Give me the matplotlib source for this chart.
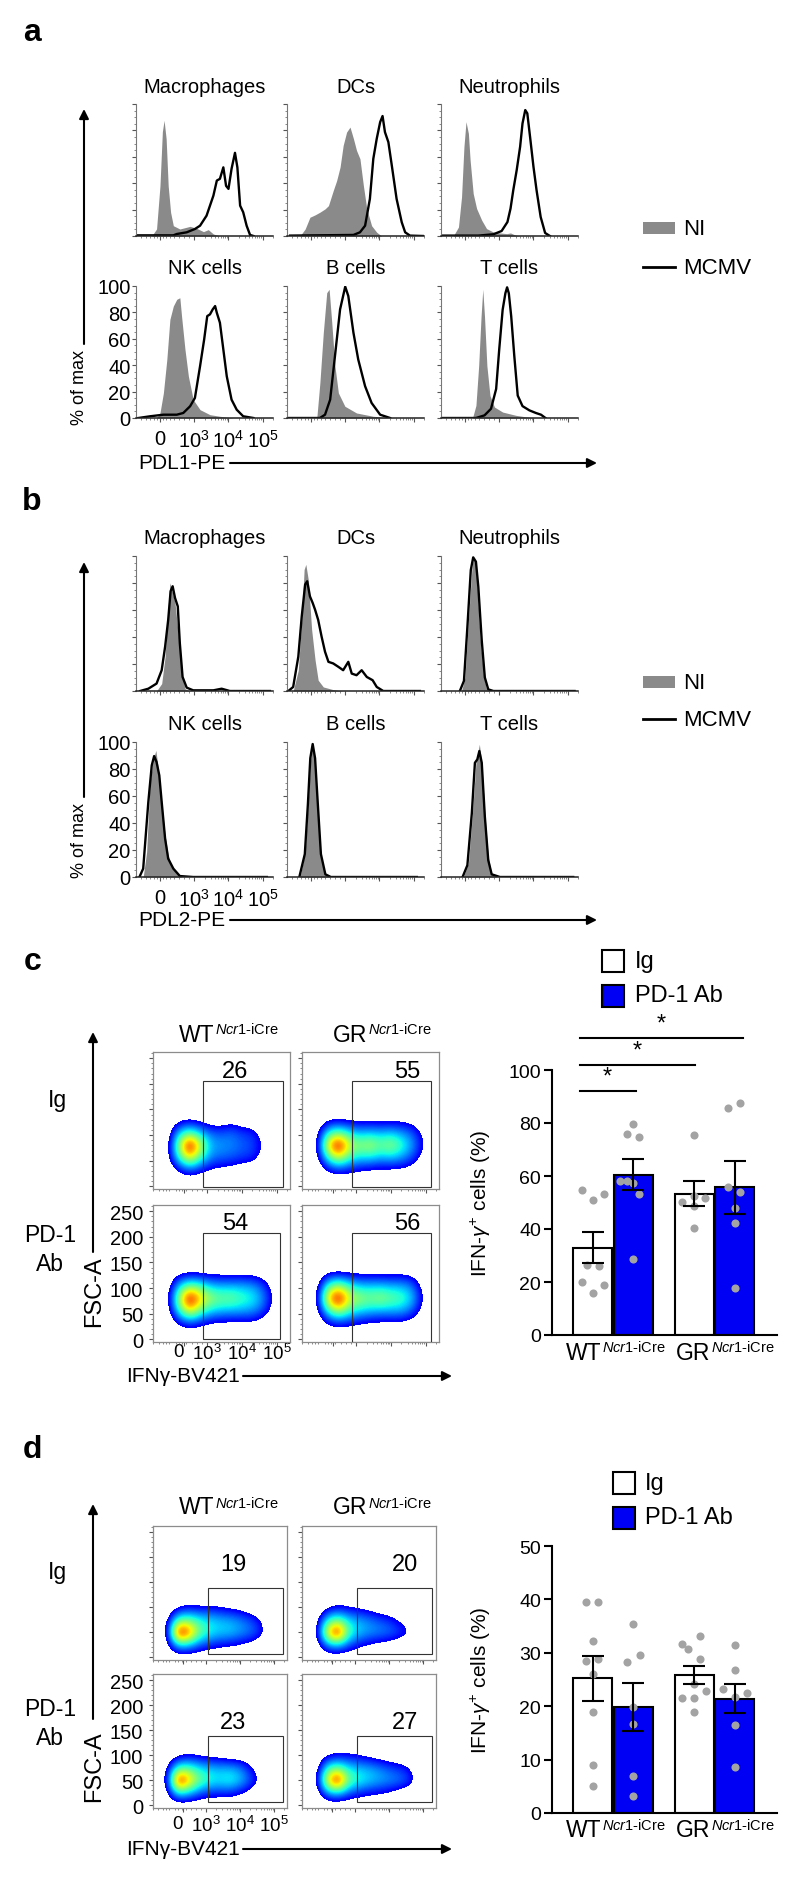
import numpy as np
import matplotlib.pyplot as plt
from matplotlib.patches import Rectangle
from matplotlib.colors import ListedColormap

plt.rcParams['font.family'] = ['Liberation Sans', 'DejaVu Sans']
plt.rcParams['mathtext.fontset'] = 'custom'
plt.rcParams['mathtext.rm'] = 'Liberation Sans'
plt.rcParams['mathtext.it'] = 'Liberation Sans:italic'
plt.rcParams['mathtext.bf'] = 'Liberation Sans:bold'

# =========================================================
# Data: histograms (x = logicle position, y = % of max)
# 0 -> 2, 10^3 -> 3, 10^4 -> 4, 10^5 -> 5
# =========================================================
cell_types = ['Macrophages', 'DCs', 'Neutrophils', 'NK cells', 'B cells', 'T cells']
hist_tick_pos = [2, 3, 4, 5]
hist_tick_labels = ['0', '$10^3$', '$10^4$', '$10^5$']

# PDL1 (panel a)
mac_ni_1 = ([1.76, 1.90, 2.00, 2.07, 2.12, 2.18, 2.24, 2.31, 2.39, 2.58, 2.88, 3.07, 3.27, 3.41, 3.56, 3.75],
            [0, 5.3, 38, 79, 87.6, 73.7, 38, 18, 7.8, 5.3, 7.3, 5.8, 3.3, 4.8, 1.5, 0])
mac_mc_1 = ([1.32, 2.39, 2.49, 2.78, 3.02, 3.17, 3.36, 3.56, 3.66, 3.75, 3.85, 3.93, 4.00, 4.09, 4.19, 4.26, 4.34, 4.43, 4.53, 4.63, 4.73],
            [0.5, 0.5, 1.5, 2.8, 5.3, 7.8, 15.4, 30.6, 42, 43.3, 52, 38, 35.7, 50.9, 63, 52, 23, 18, 7.8, 0.8, 0])
dc_ni_1 = ([1.68, 1.83, 1.97, 2.12, 2.26, 2.41, 2.51, 2.65, 2.75, 2.85, 2.94, 3.04, 3.14, 3.24, 3.33, 3.43, 3.53, 3.63, 3.77, 3.92, 4.06],
           [0, 5.3, 14.2, 16, 18, 20.5, 23, 34.4, 42, 52.2, 68.6, 78.7, 82.5, 73.7, 64.8, 58.5, 38.2, 20.5, 7.8, 2.8, 0])
dc_mc_1 = ([1.39, 3.24, 3.43, 3.58, 3.72, 3.82, 3.92, 4.02, 4.09, 4.16, 4.26, 4.36, 4.50, 4.65, 4.75, 4.89, 5.28],
           [0.3, 0.8, 2.8, 7.8, 28.1, 58.5, 73.7, 86.3, 90.9, 78.7, 71.1, 53.4, 28.1, 10.4, 2.8, 0.3, 0])
neu_ni_1 = ([1.66, 1.81, 1.90, 1.97, 2.03, 2.10, 2.15, 2.24, 2.34, 2.49, 2.63, 2.83, 3.02, 3.22, 3.33, 3.46, 3.61],
            [0, 6.8, 29.6, 67.6, 86.6, 77.7, 57.5, 32.2, 20.8, 11.9, 5.6, 3.0, 2.3, 1.8, 2.3, 0.8, 0])
neu_mc_1 = ([1.32, 2.39, 2.83, 3.07, 3.24, 3.33, 3.41, 3.51, 3.61, 3.68, 3.76, 3.82, 3.90, 4.00, 4.09, 4.21, 4.34, 4.48],
            [0.3, 0.3, 1.3, 3.8, 10.6, 20.8, 34.7, 49.9, 67.6, 85.3, 95.4, 92.9, 75.2, 52.4, 34.7, 14.4, 2.3, 0])
nk_ni_1 = ([1.90, 2.00, 2.10, 2.20, 2.29, 2.39, 2.49, 2.58, 2.63, 2.73, 2.83, 2.97, 3.17, 3.46, 3.75, 4.14],
           [0, 3.8, 19, 44.3, 74.7, 84.8, 89.9, 91.1, 77.2, 51.9, 31.6, 13.9, 6.3, 2.5, 1.3, 0])
nk_mc_1 = ([1.37, 1.71, 2.10, 2.29, 2.49, 2.68, 2.88, 3.02, 3.17, 3.29, 3.38, 3.46, 3.54, 3.61, 3.66, 3.75, 3.85, 3.95, 4.09, 4.24, 4.43, 4.73],
           [0, 1.3, 2.5, 2.5, 2.5, 3.8, 8.9, 15.2, 39.2, 59.5, 77.2, 78.5, 82.3, 84.8, 79.7, 72.2, 51.9, 31.6, 13.9, 6.3, 1.3, 0])
bc_ni_1 = ([2.17, 2.26, 2.36, 2.46, 2.53, 2.60, 2.70, 2.80, 2.99, 3.33, 3.82, 4.40],
           [0, 26.6, 64.6, 94.9, 97.5, 74.7, 39.2, 19, 8.9, 3.8, 1.3, 0])
bc_mc_1 = ([1.32, 2.26, 2.41, 2.56, 2.70, 2.85, 3.00, 3.09, 3.24, 3.38, 3.58, 3.77, 4.02, 4.31],
           [0, 0, 2.5, 13.9, 46.8, 82.3, 99.5, 92.4, 64.6, 44.3, 24.1, 11.4, 2.5, 0])
tc_ni_1 = ([2.22, 2.32, 2.40, 2.47, 2.52, 2.57, 2.64, 2.73, 2.86, 3.10, 3.49, 3.88, 4.07],
           [0, 9.5, 39.5, 77, 97.5, 77, 39.5, 17, 8.3, 4.5, 2, 0.5, 0])
tc_mc_1 = ([1.32, 2.32, 2.57, 2.76, 2.91, 3.00, 3.10, 3.18, 3.23, 3.28, 3.35, 3.44, 3.54, 3.68, 3.88, 4.07, 4.22, 4.35],
           [0, 0, 2, 7, 22, 52, 82, 94.5, 99, 94.5, 77, 47, 17, 9, 5.8, 3.8, 2.5, 0])

# PDL2 (panel b)
mac_ni_2 = ([1.90, 2.05, 2.15, 2.22, 2.29, 2.37, 2.44, 2.54, 2.63, 2.73, 2.88],
            [0, 5.5, 25.4, 55.2, 80.1, 72.6, 65.2, 40.3, 15.4, 1.7, 0])
mac_mc_2 = ([1.42, 1.66, 1.90, 2.05, 2.15, 2.24, 2.31, 2.37, 2.44, 2.52, 2.58, 2.66, 2.78, 2.97, 3.56, 3.80, 4.04, 5.21],
            [0, 1.7, 5.5, 15.4, 32.8, 52.7, 73.9, 77.6, 68.9, 62.7, 35.3, 10.4, 2.5, 0.5, 0.5, 1.7, 0, 0])
dc_ni_2 = ([1.48, 1.63, 1.73, 1.80, 1.85, 1.92, 2.02, 2.12, 2.21, 2.36, 2.65, 2.94],
           [0, 15.4, 52.7, 90, 93.8, 82.6, 45.3, 22.9, 8, 3, 1, 0])
dc_mc_2 = ([1.34, 1.48, 1.63, 1.73, 1.83, 1.89, 1.97, 2.05, 2.12, 2.21, 2.31, 2.41, 2.51, 2.65, 2.80, 2.94, 3.09, 3.19, 3.33, 3.48, 3.63, 3.80, 3.92, 4.11, 5.18],
           [0, 3, 25.4, 55.2, 78.9, 81.3, 70.1, 65.2, 60.2, 52.7, 40.3, 29.1, 21.6, 20.4, 17.9, 15.4, 21.6, 12.9, 11.7, 15.4, 10.4, 8, 3, 0, 0])
neu_ni_2 = ([1.90, 2.00, 2.10, 2.20, 2.24, 2.29, 2.36, 2.44, 2.54, 2.63, 2.73],
            [0, 10, 52.2, 89.6, 98.3, 97, 77.1, 39.8, 12.4, 1.2, 0])
neu_mc_2 = ([1.85, 1.97, 2.07, 2.17, 2.24, 2.32, 2.39, 2.49, 2.58, 2.68, 2.83, 5.20],
            [0, 7.5, 47.3, 89.6, 99, 95.8, 77.1, 37.3, 10, 1.2, 0, 0])
nk_ni_2 = ([1.51, 1.61, 1.71, 1.81, 1.88, 1.95, 2.05, 2.15, 2.24, 2.34, 2.49, 2.63],
           [0, 18.5, 70.4, 87.7, 93.8, 80.2, 55.6, 30.9, 16, 7.4, 2.5, 0])
nk_mc_2 = ([1.40, 1.51, 1.66, 1.76, 1.83, 1.90, 1.98, 2.05, 2.15, 2.24, 2.39, 2.58, 2.97, 5.12],
           [0, 6.2, 55.6, 82.7, 89.6, 85.2, 75.3, 55.6, 28.4, 13.6, 6.2, 0.7, 0, 0])
bc_ni_2 = ([1.68, 1.83, 1.92, 1.99, 2.05, 2.12, 2.19, 2.28, 2.41, 2.56],
           [0, 18.5, 55.6, 87.7, 97.5, 87.7, 55.6, 18.5, 2.5, 0])
bc_mc_2 = ([1.66, 1.82, 1.91, 1.98, 2.05, 2.12, 2.20, 2.29, 2.42, 2.58, 5.09],
           [0, 17, 54, 88, 98.5, 88, 54, 17, 2, 0, 0])
tc_ni_2 = ([1.95, 2.10, 2.22, 2.32, 2.42, 2.49, 2.58, 2.68, 2.78, 2.93],
           [0, 10, 47.3, 84.6, 98.3, 84.6, 47.3, 14.9, 2.5, 0])
tc_mc_2 = ([1.93, 2.07, 2.20, 2.29, 2.36, 2.42, 2.49, 2.58, 2.68, 2.78, 3.02, 5.16],
           [0, 8.7, 47.3, 84.6, 87.1, 93.3, 84.6, 44.8, 12.4, 2, 0, 0])

pdl1_ni = [mac_ni_1, dc_ni_1, neu_ni_1, nk_ni_1, bc_ni_1, tc_ni_1]
pdl1_mc = [mac_mc_1, dc_mc_1, neu_mc_1, nk_mc_1, bc_mc_1, tc_mc_1]
pdl2_ni = [mac_ni_2, dc_ni_2, neu_ni_2, nk_ni_2, bc_ni_2, tc_ni_2]
pdl2_mc = [mac_mc_2, dc_mc_2, neu_mc_2, nk_mc_2, bc_mc_2, tc_mc_2]

# =========================================================
# Data: flow density plots (IFNg vs FSC-A), coarse density grids
# =========================================================
genotypes = ['WT', 'GR']
genotype_sup = r'$\mathit{Ncr1}$-iCre'
treatments = ['Ig', 'PD-1\nAb']
dens_cols = [1.6, 1.9, 2.2, 2.5, 2.8, 3.1, 3.4, 3.7, 4.0, 4.3, 4.6, 4.9, 5.2]
dens_tick_labels = ['0', '$10^3$', '$10^4$', '$10^5$']
c_rows = [5, 30, 55, 80, 105, 130, 155]
d_rows = [0, 25, 50, 75, 100, 125]

c_wt_ig = [[0, 0, 0, 0, 0, 0, 0, 0, 0, 0, 0, 0, 0],
           [0, 0, 0.08, 0.15, 0.10, 0.06, 0.05, 0.03, 0, 0, 0, 0, 0],
           [0, 0.05, 0.38, 0.65, 0.42, 0.24, 0.21, 0.20, 0.17, 0.15, 0.05, 0, 0],
           [0, 0.05, 0.55, 1.00, 0.62, 0.30, 0.27, 0.25, 0.21, 0.19, 0.10, 0, 0],
           [0, 0.03, 0.30, 0.42, 0.30, 0.21, 0.19, 0.22, 0.17, 0.15, 0.05, 0, 0],
           [0, 0, 0.04, 0.06, 0.04, 0, 0, 0.04, 0, 0, 0, 0, 0],
           [0, 0, 0, 0, 0, 0, 0, 0, 0, 0, 0, 0, 0]]
c_gr_ig = [[0, 0, 0, 0, 0, 0, 0, 0, 0, 0, 0, 0, 0],
           [0, 0, 0.08, 0.12, 0.10, 0.08, 0.06, 0.05, 0.05, 0.05, 0.03, 0, 0],
           [0, 0.05, 0.38, 0.58, 0.40, 0.32, 0.33, 0.28, 0.30, 0.26, 0.18, 0.06, 0],
           [0, 0.08, 0.70, 1.00, 0.62, 0.52, 0.58, 0.48, 0.55, 0.42, 0.28, 0.12, 0],
           [0, 0.05, 0.36, 0.45, 0.34, 0.28, 0.30, 0.28, 0.30, 0.26, 0.20, 0.08, 0],
           [0, 0, 0.05, 0.06, 0.05, 0.05, 0.05, 0.05, 0.05, 0.05, 0.04, 0, 0],
           [0, 0, 0, 0, 0, 0, 0, 0, 0, 0, 0, 0, 0]]
c_wt_pd1 = [[0, 0, 0, 0, 0, 0, 0, 0, 0, 0, 0, 0, 0],
            [0, 0, 0.08, 0.14, 0.10, 0.06, 0.05, 0.05, 0.05, 0.05, 0.03, 0, 0],
            [0, 0.04, 0.38, 0.65, 0.45, 0.33, 0.30, 0.28, 0.28, 0.26, 0.18, 0.05, 0],
            [0, 0.06, 0.55, 1.00, 0.72, 0.55, 0.48, 0.50, 0.42, 0.38, 0.26, 0.08, 0],
            [0, 0.04, 0.30, 0.45, 0.40, 0.30, 0.28, 0.28, 0.28, 0.26, 0.18, 0.05, 0],
            [0, 0, 0.04, 0.05, 0.05, 0.04, 0.04, 0.04, 0.04, 0.04, 0.02, 0, 0],
            [0, 0, 0, 0, 0, 0, 0, 0, 0, 0, 0, 0, 0]]
c_gr_pd1 = [[0, 0, 0, 0, 0, 0, 0, 0, 0, 0, 0, 0, 0],
            [0, 0, 0.08, 0.12, 0.10, 0.08, 0.06, 0.05, 0.05, 0.05, 0.03, 0, 0],
            [0, 0.05, 0.38, 0.55, 0.40, 0.33, 0.30, 0.28, 0.28, 0.28, 0.20, 0.06, 0],
            [0, 0.08, 0.72, 1.00, 0.62, 0.55, 0.50, 0.55, 0.48, 0.44, 0.33, 0.10, 0],
            [0, 0.05, 0.40, 0.52, 0.38, 0.30, 0.30, 0.30, 0.28, 0.28, 0.23, 0.06, 0],
            [0, 0, 0.05, 0.06, 0.05, 0.05, 0.05, 0.05, 0.05, 0.05, 0.04, 0, 0],
            [0, 0, 0, 0, 0, 0, 0, 0, 0, 0, 0, 0, 0]]

d_wt_ig = [[0, 0, 0, 0, 0, 0, 0, 0, 0, 0, 0, 0, 0],
           [0, 0.06, 0.32, 0.30, 0.20, 0.15, 0.12, 0.10, 0.08, 0.05, 0, 0, 0],
           [0, 0.12, 1.00, 0.85, 0.50, 0.38, 0.33, 0.33, 0.28, 0.24, 0.17, 0, 0],
           [0, 0.08, 0.42, 0.45, 0.38, 0.33, 0.30, 0.28, 0.24, 0.19, 0.10, 0, 0],
           [0, 0, 0.06, 0.10, 0.08, 0.10, 0.08, 0.06, 0.04, 0, 0, 0, 0],
           [0, 0, 0, 0, 0, 0, 0, 0, 0, 0, 0, 0, 0]]
d_gr_ig = [[0, 0, 0, 0, 0, 0, 0, 0, 0, 0, 0, 0, 0],
           [0, 0.03, 0.25, 0.30, 0.20, 0.12, 0.08, 0.05, 0.03, 0, 0, 0, 0],
           [0, 0.08, 0.70, 1.00, 0.45, 0.33, 0.28, 0.26, 0.24, 0.19, 0.12, 0, 0],
           [0, 0.04, 0.35, 0.45, 0.33, 0.28, 0.24, 0.19, 0.15, 0.08, 0.03, 0, 0],
           [0, 0, 0.05, 0.10, 0.08, 0.06, 0.04, 0, 0, 0, 0, 0, 0],
           [0, 0, 0, 0, 0, 0, 0, 0, 0, 0, 0, 0, 0]]
d_wt_pd1 = [[0, 0, 0, 0, 0, 0, 0, 0, 0, 0, 0, 0, 0],
            [0, 0.08, 0.36, 0.30, 0.20, 0.15, 0.15, 0.15, 0.10, 0.05, 0, 0, 0],
            [0, 0.15, 1.00, 0.75, 0.50, 0.40, 0.36, 0.40, 0.33, 0.21, 0.08, 0, 0],
            [0, 0.10, 0.40, 0.42, 0.34, 0.30, 0.28, 0.28, 0.24, 0.12, 0.03, 0, 0],
            [0, 0, 0.05, 0.08, 0.06, 0.04, 0.03, 0, 0, 0, 0, 0, 0],
            [0, 0, 0, 0, 0, 0, 0, 0, 0, 0, 0, 0, 0]]
d_gr_pd1 = [[0, 0, 0, 0, 0, 0, 0, 0, 0, 0, 0, 0, 0],
            [0, 0.03, 0.25, 0.30, 0.20, 0.15, 0.12, 0.10, 0.08, 0.03, 0, 0, 0],
            [0, 0.08, 0.70, 1.00, 0.50, 0.40, 0.34, 0.30, 0.27, 0.25, 0.19, 0.02, 0],
            [0, 0.04, 0.38, 0.45, 0.34, 0.30, 0.28, 0.24, 0.19, 0.15, 0.10, 0, 0],
            [0, 0, 0.06, 0.10, 0.10, 0.08, 0.05, 0.02, 0, 0, 0, 0, 0],
            [0, 0, 0, 0, 0, 0, 0, 0, 0, 0, 0, 0, 0]]

# gates: (x0, x1, y0, y1) and % in gate
c_gates = [(2.88, 5.18, -2, 205), (2.88, 5.15, -2, 205), (2.88, 5.09, 0, 207), (2.88, 5.15, -5, 207)]
c_gate_pct = ['26', '55', '54', '56']
d_gates = [(3.06, 5.26, 6, 139), (3.06, 5.26, 6, 139), (3.06, 5.26, 6, 139), (3.06, 5.26, 6, 139)]
d_gate_pct = ['19', '20', '23', '27']

# =========================================================
# Data: bar charts, IFN-g+ NK cells (%)
# order: WT Ig, WT PD-1 Ab, GR Ig, GR PD-1 Ab
# =========================================================
c_means = [33.0, 60.5, 53.3, 55.7]
c_sem = [5.7, 5.9, 4.8, 10.0]
c_pts = [[54.8, 51.1, 53.2, 26.4, 25.9, 19.9, 19.0, 15.7],
         [79.6, 75.8, 74.8, 58.2, 58.0, 57.5, 53.2, 28.7],
         [75.5, 52.3, 50.3, 51.6, 48.6, 40.3],
         [85.5, 87.4, 56.0, 54.0, 47.8, 42.3, 17.7]]
c_jitter = [[-0.11, 0, 0.11, -0.06, 0.06, -0.11, 0.11, 0],
            [0, -0.066, 0.06, -0.13, -0.066, 0, 0.06, 0],
            [0, 0, -0.12, 0.11, 0, 0],
            [-0.067, 0.054, -0.067, 0.054, 0, 0, 0]]
# significance comparisons: (x start, x end, height)
c_sig = [(-0.33, 0.224, 92.2), (-0.33, 0.81, 102.0), (-0.33, 1.28, 112.0)]

d_means = [25.2, 19.9, 25.8, 21.4]
d_sem = [4.15, 4.5, 1.7, 2.7]
d_pts = [[39.5, 39.6, 32.3, 28.4, 28.9, 26.1, 19.0, 9.0, 5.1],
         [35.4, 29.6, 28.25, 19.8, 16.7, 7.0, 3.1],
         [33.1, 31.7, 30.75, 28.9, 22.8, 24.1, 21.5, 21.5, 19.0],
         [31.4, 26.7, 23.25, 22.5, 21.7, 16.5, 8.7]]
d_jitter = [[-0.062, 0.053, 0, -0.062, 0.053, 0, 0, 0, 0],
            [0, 0.062, -0.059, 0, 0, 0, 0],
            [0.059, -0.118, -0.062, 0.059, 0.118, 0, -0.118, 0, 0],
            [0, 0, -0.12, 0.117, 0, 0, 0]]

bar_x = [-0.2, 0.2, 0.8, 1.2]
bar_fill = ['white', '#0000f5', 'white', '#0000f5']

NI_GRAY = '#8a8a8a'
DOT_GRAY = '#a3a3a3'
AX_GRAY = '#8c8c8c'

# =========================================================
# Figure & helpers (pixel layout)
# =========================================================
W, H = 800, 1883
fig = plt.figure(figsize=(W / 100, H / 100), dpi=100)

ov = fig.add_axes([0, 0, 1, 1])
ov.set_xlim(0, W)
ov.set_ylim(H, 0)
ov.axis('off')


def px_axes(left, top, w, h):
    return fig.add_axes([left / W, 1 - (top + h) / H, w / W, h / H])


def arrow(x0, y0, x1, y1):
    ov.annotate('', xy=(x1, y1), xytext=(x0, y0),
                arrowprops=dict(arrowstyle='-|>', color='black', lw=1.5,
                                mutation_scale=14, shrinkA=0, shrinkB=0))


def genotype_label(x_join, y, name, size=16.5, sup_size=10.5):
    ov.text(x_join, y, name, ha='right', va='center', fontsize=size)
    ov.text(x_join + 1, y - 5, genotype_sup, ha='left', va='center', fontsize=sup_size)


logicle_minor = [1.45, 1.6, 1.72, 1.82, 1.9, 2.1, 2.18, 2.28, 2.4, 2.55, 2.7, 2.85] + \
                [d + np.log10(k) for d in (3, 4) for k in range(2, 10)] + [5.3]

# =========================================================
# Panels a & b: histograms
# =========================================================
hist_cols = [136, 287, 441]


def hist_block(row_tops, row_h, ni_list, mc_list):
    for i, name in enumerate(cell_types):
        r, c = divmod(i, 3)
        ax = px_axes(hist_cols[c], row_tops[r], 137, row_h)
        u, p = ni_list[i]
        ax.fill_between(u, p, color=NI_GRAY, lw=0, zorder=1)
        u, p = mc_list[i]
        ax.plot(u, p, color='black', lw=1.7, zorder=2, solid_joinstyle='round')
        ax.set_xlim(1.3, 5.3)
        ax.set_ylim(0, 100)
        for s in ('top', 'right'):
            ax.spines[s].set_visible(False)
        ax.spines['left'].set_color('#777777')
        ax.spines['left'].set_linewidth(0.8)
        ax.spines['bottom'].set_color('#222222')
        ax.spines['bottom'].set_linewidth(1.1)
        ax.set_yticks([0, 20, 40, 60, 80, 100])
        ax.set_yticks(np.arange(0, 101, 5), minor=True)
        ax.set_xticks(hist_tick_pos)
        ax.set_xticks(logicle_minor, minor=True)
        ax.tick_params(which='major', length=3, width=0.8, color='#555555', labelsize=14.5)
        ax.tick_params(which='minor', length=1.6, width=0.6, color='#777777')
        ax.tick_params(axis='y', pad=1)
        ax.tick_params(axis='x', pad=5)
        if i == 3:
            ax.set_xticklabels(hist_tick_labels)
        else:
            ax.set_xticklabels([])
            ax.set_yticklabels([])
        ax.text(0.5, 1 + 18 / row_h, name, transform=ax.transAxes,
                ha='center', va='center', fontsize=14.5)


hist_block([105, 287], 132, pdl1_ni, pdl1_mc)
hist_block([557, 743], 135, pdl2_ni, pdl2_mc)

# axis arrows and labels
for top_y, lab_y, x_y, xlab, ni_y, mc_y in [(110, 387, 463, 'PDL1-PE', 229, 268),
                                             (563, 840, 920, 'PDL2-PE', 683, 720)]:
    arrow(84, lab_y - 42, 84, top_y)
    ov.text(80, lab_y, '% of max', rotation=90, ha='center', va='center', fontsize=13)
    ov.text(182, x_y, xlab, ha='center', va='center', fontsize=15)
    arrow(230, x_y + 1, 597, x_y + 1)
    ov.add_patch(Rectangle((643, ni_y - 6), 32, 12, color=NI_GRAY, lw=0))
    ov.text(683, ni_y, 'NI', ha='left', va='center', fontsize=16)
    ov.plot([643, 675], [mc_y, mc_y], color='black', lw=2)
    ov.text(683, mc_y, 'MCMV', ha='left', va='center', fontsize=16)

# =========================================================
# Panels c & d: density plots
# =========================================================
flow_cmap = ListedColormap(plt.cm.jet(np.linspace(0.11, 0.9, 256)))
flow_cmap.set_under((1, 1, 1, 0))


def dens_block(col_lefts, row_tops, size, grids, rows, gates, pcts, pct_y, title_y, xpad):
    k = 0
    for r in range(2):
        for c in range(2):
            ax = px_axes(col_lefts[c], row_tops[r], size, size)
            du = dens_cols[1] - dens_cols[0]
            dr = rows[1] - rows[0]
            ax.imshow(np.array(grids[k]), origin='lower', aspect='auto', cmap=flow_cmap,
                      vmin=0.1, vmax=0.88, interpolation='bicubic', interpolation_stage='data',
                      extent=(dens_cols[0] - du / 2, dens_cols[-1] + du / 2,
                              rows[0] - dr / 2, rows[-1] + dr / 2))
            x0, x1, y0, y1 = gates[k]
            ax.add_patch(Rectangle((x0, y0), x1 - x0, y1 - y0, fill=False,
                                   edgecolor='#333333', lw=0.8, zorder=3))
            ax.text([0.60, 0.77][c], pct_y[r], pcts[k], transform=ax.transAxes,
                    ha='center', va='center', fontsize=17)
            ax.set_xlim(1.44, 5.38)
            ax.set_ylim(-5, 262)
            for s in ax.spines.values():
                s.set_color(AX_GRAY)
                s.set_linewidth(0.9)
            ax.set_yticks([0, 50, 100, 150, 200, 250])
            ax.set_yticks(np.arange(0, 261, 10), minor=True)
            ax.set_xticks([2.32, 3, 4, 5])
            ax.set_xticks(logicle_minor, minor=True)
            ax.tick_params(which='major', length=3, width=0.8, color='#555555', labelsize=14.5)
            ax.tick_params(which='minor', length=1.6, width=0.6, color='#777777')
            ax.tick_params(axis='y', pad=4)
            ax.tick_params(axis='x', pad=xpad, labelsize=13.5)
            if r == 1 and c == 0:
                ax.set_xticklabels(dens_tick_labels)
                ax.get_xticklabels()[0].set_horizontalalignment('right')
            else:
                ax.set_xticklabels([])
                ax.set_yticklabels([])
            k += 1
    for c, g in enumerate(genotypes):
        genotype_label([214, 367][c], title_y, g)


dens_block([153, 302], [1053, 1206], 137, [c_wt_ig, c_gr_ig, c_wt_pd1, c_gr_pd1],
           c_rows, c_gates, c_gate_pct, [0.86, 0.87], 1035, -2)
dens_block([153, 302], [1527, 1675], 134, [d_wt_ig, d_gr_ig, d_wt_pd1, d_gr_pd1],
           d_rows, d_gates, d_gate_pct, [0.72, 0.64], 1508, 2)

for ig_y, pd_y, arr_top, arr_bot, fsc_y, ifn_y in [(1100, 1250, 1033, 1253, 1292, 1377),
                                                   (1573, 1724, 1505, 1720, 1767, 1850)]:
    ov.text(57, ig_y, treatments[0], ha='center', va='center', fontsize=16.5)
    ov.text(50, pd_y, treatments[1], ha='center', va='center', fontsize=16.5, linespacing=1.35)
    arrow(93, arr_bot, 93, arr_top)
    ov.text(94, fsc_y, 'FSC-A', rotation=90, ha='center', va='center', fontsize=17)
    ov.text(183, ifn_y, 'IFNγ-BV421', ha='center', va='center', fontsize=15)
    arrow(243, ifn_y, 452, ifn_y)

# =========================================================
# Panels c & d: bar charts
# =========================================================


def bar_block(top, h, means, sem, pts, jitter, ymax, ystep):
    ax = px_axes(552, top, 225, h)
    ax.bar(bar_x, means, width=0.385, color=bar_fill, edgecolor='black', lw=1.5, zorder=2)
    for j in range(4):
        ax.scatter([bar_x[j] + o for o in jitter[j]], pts[j], s=34, color=DOT_GRAY,
                   lw=0, zorder=3, clip_on=False)
    ax.errorbar(bar_x, means, yerr=sem, fmt='none', ecolor='black', elinewidth=1.5,
                capsize=8, capthick=1.5, zorder=4)
    ax.set_xlim(-0.601, 1.616)
    ax.set_ylim(0, ymax)
    ax.set_yticks(np.arange(0, ymax + 1, ystep))
    for s in ('top', 'right'):
        ax.spines[s].set_visible(False)
    for s in ('left', 'bottom'):
        ax.spines[s].set_linewidth(1.5)
    ax.tick_params(axis='y', length=6, width=1.5, labelsize=14, pad=2)
    ax.set_xticks([])
    ax.set_ylabel(r'IFN-$\gamma^{+}$ cells (%)', fontsize=15)
    ax.yaxis.set_label_coords(-0.262, 0.5)
    bottom = top + h
    for c, g in enumerate(genotypes):
        genotype_label([601, 710][c], bottom + 17, g)
    return ax


ax_c = bar_block(1071, 265, c_means, c_sem, c_pts, c_jitter, 100, 20)
for x0, x1, y in c_sig:
    ax_c.plot([x0, x1], [y, y], color='black', lw=1.5, clip_on=False)
    ax_c.text((x0 + x1) / 2, y + 1.2, '*', ha='center', va='bottom', fontsize=17, clip_on=False)

ax_d = bar_block(1547, 267, d_means, d_sem, d_pts, d_jitter, 50, 10)

# bar legends
for bx, tx, y1, y2 in [(602, 635, 951, 986), (613, 645, 1473, 1508)]:
    ov.add_patch(Rectangle((bx, y1), 22, 22, facecolor='white', edgecolor='black', lw=1.5))
    ov.add_patch(Rectangle((bx, y2), 22, 22, facecolor=bar_fill[1], edgecolor='black', lw=1.5))
    ov.text(tx, y1 + 11, 'Ig', ha='left', va='center', fontsize=17)
    ov.text(tx, y2 + 10, 'PD-1 Ab', ha='left', va='center', fontsize=17)

# panel letters
for lab, x, y in [('a', 32, 33), ('b', 32, 502), ('c', 33, 962), ('d', 32, 1450)]:
    ov.text(x, y, lab, ha='center', va='center', fontsize=23, fontweight='bold')

fig.savefig('out.png', dpi=100)
